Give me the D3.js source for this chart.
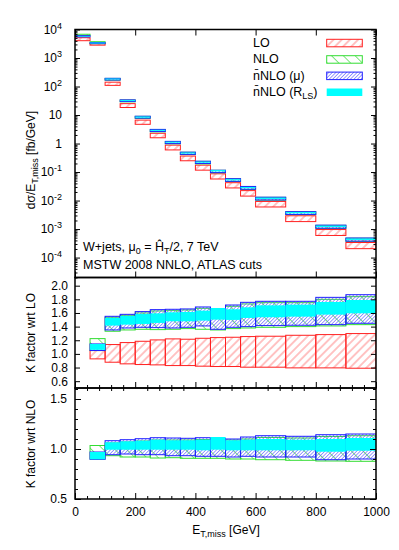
<!DOCTYPE html>
<html>
<head>
<meta charset="utf-8">
<script src="https://cdn.jsdelivr.net/npm/d3@7"></script>
<style>
body { margin: 0; background: #fff; }
svg { display: block; }
text { font-family: "Liberation Sans", Arial, sans-serif; font-size: 12px; fill: #000; }
text.big { font-size: 12.5px; }
</style>
</head>
<body>
<div id="container"></div>
<script>
// bin edges in E_T,miss [GeV]
var binEdges = [0, 50, 100, 150, 200, 250, 300, 350, 400, 450, 500, 550, 600, 700, 800, 900, 1000];

// LO central value, dsigma/dE [fb/GeV]
var loXsec = [4600, 3050, 125, 21.5, 5.6, 1.9, 0.72, 0.30, 0.142, 0.070, 0.034, 0.0178, 0.0074, 0.0023, 0.00075, 0.00026];

// K factor wrt LO : scale bands (low / high edge of each box)
var loLow    = [0.88, 0.927, 0.878, 0.854, 0.844, 0.839, 0.829, 0.829, 0.82, 0.815, 0.815, 0.805, 0.805, 0.795, 0.795, 0.79];
var loHigh   = [1.12, 1.049, 1.137, 1.166, 1.185, 1.205, 1.22, 1.215, 1.229, 1.239, 1.244, 1.254, 1.259, 1.273, 1.283, 1.298];
var nloLow   = [1.30, 1.049, 1.332, 1.351, 1.361, 1.356, 1.361, 1.371, 1.361, 1.351, 1.371, 1.38, 1.39, 1.40, 1.41, 1.429];
var nloHigh  = [1.48, 1.224, 1.537, 1.566, 1.60, 1.629, 1.634, 1.644, 1.668, 1.644, 1.698, 1.732, 1.751, 1.751, 1.80, 1.839];
var muLow    = [1.20, 1.05, 1.351, 1.38, 1.39, 1.385, 1.38, 1.39, 1.41, 1.361, 1.39, 1.40, 1.415, 1.42, 1.429, 1.449];
var muHigh   = [1.32, 1.146, 1.551, 1.58, 1.62, 1.649, 1.654, 1.659, 1.688, 1.654, 1.717, 1.756, 1.771, 1.771, 1.829, 1.868];
var rlsLow   = [1.22, 1.059, 1.415, 1.429, 1.439, 1.454, 1.478, 1.478, 1.488, 1.502, 1.498, 1.527, 1.537, 1.546, 1.576, 1.595];
var rlsHigh  = [1.29, 1.146, 1.527, 1.556, 1.585, 1.595, 1.610, 1.615, 1.634, 1.673, 1.654, 1.683, 1.712, 1.722, 1.761, 1.79];

// K factor wrt NLO (first bin not shown)
var nloNLow  = [null, 0.90, 0.933, 0.92, 0.92, 0.91, 0.913, 0.907, 0.907, 0.907, 0.90, 0.90, 0.893, 0.887, 0.88, 0.877];
var nloNHigh = [null, 1.035, 1.06, 1.07, 1.08, 1.09, 1.09, 1.09, 1.095, 1.09, 1.09, 1.10, 1.115, 1.11, 1.125, 1.133];
var muNLow   = [null, 0.897, 0.943, 0.95, 0.943, 0.943, 0.933, 0.933, 0.927, 0.927, 0.92, 0.927, 0.92, 0.92, 0.893, 0.90];
var muNHigh  = [null, 0.97, 1.083, 1.093, 1.103, 1.113, 1.11, 1.107, 1.113, 1.107, 1.10, 1.12, 1.133, 1.127, 1.143, 1.15];
var rlsNLow  = [null, 0.897, 0.993, 0.993, 0.993, 0.993, 0.993, 0.993, 0.987, 0.993, 0.987, 0.987, 0.987, 0.987, 0.973, 0.983];
var rlsNHigh = [null, 0.97, 1.067, 1.077, 1.083, 1.093, 1.087, 1.087, 1.093, 1.12, 1.087, 1.093, 1.10, 1.093, 1.10, 1.11];

var xTicks = [0, 200, 400, 600, 800, 1000];

var svgWidth = 399, svgHeight = 550;
var svg = d3.select("div#container").append("svg")
    .attr("width", svgWidth)
    .attr("height", svgHeight);

var x = d3.scaleLinear().domain([0, 1000]).range([75, 376]);
var yMain = d3.scaleLog().domain([2e-5, 1e4]).range([277.5, 29.5]);
var yMid = d3.scaleLinear().domain([0.5, 2.12]).range([388, 277.5]);
var yBot = d3.scaleLinear().domain([0.5, 1.61]).range([499, 388]);

var bins = loXsec.map(function (c, i) { return { i: i, x0: binEdges[i], x1: binEdges[i + 1] }; });

// hatch patterns
var defs = svg.append("defs");
function hatch(id, spacing, angle, color, width) {
    var p = defs.append("pattern")
        .attr("id", id)
        .attr("patternUnits", "userSpaceOnUse")
        .attr("width", spacing)
        .attr("height", 10)
        .attr("patternTransform", "rotate(" + angle + ")");
    p.append("line")
        .attr("x1", spacing / 2).attr("x2", spacing / 2)
        .attr("y1", 0).attr("y2", 10)
        .attr("stroke", color)
        .attr("stroke-width", width);
}
hatch("hLO", 5.8, 45, "#ff6666", 0.8);
hatch("hNLO", 8.3, -45, "#55e055", 0.8);
hatch("hMU", 2.5, 45, "#6666ff", 0.7);

var styles = {
    lo:  { fill: "url(#hLO)", stroke: "#ff2020" },
    nlo: { fill: "url(#hNLO)", stroke: "#33dd33" },
    mu:  { fill: "url(#hMU)", stroke: "#2020ff" },
    rls: { fill: "#00ffff", stroke: "none" }
};

function clip(id, y) {
    defs.append("clipPath").attr("id", id).append("rect")
        .attr("x", x.range()[0]).attr("width", x.range()[1] - x.range()[0])
        .attr("y", y.range()[1]).attr("height", y.range()[0] - y.range()[1]);
}
clip("cMain", yMain);
clip("cMid", yMid);
clip("cBot", yBot);

function drawBoxes(g, y, low, high, scale, style) {
    var data = bins.filter(function (d) { return low[d.i] != null; });
    g.selectAll(null)
        .data(data)
        .enter()
        .append("rect")
        .attr("x", function (d) { return x(d.x0); })
        .attr("width", function (d) { return x(d.x1) - x(d.x0); })
        .attr("y", function (d) { return y(high[d.i] * scale(d)); })
        .attr("height", function (d) { return y(low[d.i] * scale(d)) - y(high[d.i] * scale(d)); })
        .attr("fill", style.fill)
        .attr("stroke", style.stroke)
        .attr("stroke-width", 1);
}

var one = function () { return 1; };
var byLO = function (d) { return loXsec[d.i]; };

// main panel: LO central times K factor
var gMain = svg.append("g").attr("clip-path", "url(#cMain)");
drawBoxes(gMain, yMain, loLow, loHigh, byLO, styles.lo);
drawBoxes(gMain, yMain, nloLow, nloHigh, byLO, styles.nlo);
drawBoxes(gMain, yMain, muLow, muHigh, byLO, styles.mu);
drawBoxes(gMain, yMain, rlsLow, rlsHigh, byLO, styles.rls);

// K factor wrt LO (bins from 50 GeV)
var midLow = function (a) { return a.map(function (v, i) { return i === 0 ? null : v; }); };
var gMid = svg.append("g").attr("clip-path", "url(#cMid)");
drawBoxes(gMid, yMid, midLow(loLow), loHigh, one, styles.lo);
drawBoxes(gMid, yMid, midLow(nloLow), nloHigh, one, styles.nlo);
drawBoxes(gMid, yMid, midLow(muLow), muHigh, one, styles.mu);
drawBoxes(gMid, yMid, midLow(rlsLow), rlsHigh, one, styles.rls);

// K factor wrt NLO
var gBot = svg.append("g").attr("clip-path", "url(#cBot)");
drawBoxes(gBot, yBot, nloNLow, nloNHigh, one, styles.nlo);
drawBoxes(gBot, yBot, muNLow, muNHigh, one, styles.mu);
drawBoxes(gBot, yBot, rlsNLow, rlsNHigh, one, styles.rls);

// axes
function cleanAxis(g) {
    g.select(".domain").remove();
    g.selectAll(".tick line").attr("stroke", "#000").attr("stroke-width", 1);
    g.attr("font-size", null).attr("font-family", null);
}

function xAxes(y, top, bottom, minorTop, minorBottom, labels) {
    var minors = d3.range(0, 1001, 40).filter(function (v) { return v % 200 !== 0; });
    var yt = y.range()[1], yb = y.range()[0];
    if (top) svg.append("g").attr("transform", "translate(0," + yt + ")")
        .call(d3.axisTop(x).tickValues(xTicks).tickSize(-6).tickFormat("")).call(cleanAxis);
    if (minorTop) svg.append("g").attr("transform", "translate(0," + yt + ")")
        .call(d3.axisTop(x).tickValues(minors).tickSize(-3).tickFormat("")).call(cleanAxis);
    svg.append("g").attr("transform", "translate(0," + yb + ")")
        .call(d3.axisBottom(x).tickValues(xTicks).tickSize(-6).tickPadding(8.5)
            .tickFormat(labels ? d3.format("d") : ""))
        .call(cleanAxis);
    if (minorBottom) svg.append("g").attr("transform", "translate(0," + yb + ")")
        .call(d3.axisBottom(x).tickValues(minors).tickSize(-3).tickFormat("")).call(cleanAxis);
}

function yAxes(y, majors, minors, fmt, pad, majLen, minLen) {
    var xl = x.range()[0], xr = x.range()[1];
    var gl = svg.append("g").attr("transform", "translate(" + xl + ",0)")
        .call(d3.axisLeft(y).tickValues(majors).tickSize(-majLen).tickPadding(pad).tickFormat(fmt))
        .call(cleanAxis);
    svg.append("g").attr("transform", "translate(" + xr + ",0)")
        .call(d3.axisRight(y).tickValues(majors).tickSize(-majLen).tickFormat("")).call(cleanAxis);
    if (minors) {
        svg.append("g").attr("transform", "translate(" + xl + ",0)")
            .call(d3.axisLeft(y).tickValues(minors).tickSize(-minLen).tickFormat("")).call(cleanAxis);
        svg.append("g").attr("transform", "translate(" + xr + ",0)")
            .call(d3.axisRight(y).tickValues(minors).tickSize(-minLen).tickFormat("")).call(cleanAxis);
    }
    return gl;
}

// main panel y axis (log)
var mainMajors = [1e-4, 1e-3, 1e-2, 1e-1, 1, 10, 100, 1e3, 1e4];
var mainMinors = [];
for (var e = -5; e < 4; e++) {
    for (var k = 2; k < 10; k++) {
        var v = k * Math.pow(10, e);
        if (v >= 2e-5 && v <= 1e4) mainMinors.push(v);
    }
}
var glMain = yAxes(yMain, mainMajors, mainMinors, function () { return ""; }, 13, 5, 2.5);
glMain.selectAll(".tick text").each(function (d) {
    var ex = Math.round(Math.log10(d));
    var t = d3.select(this);
    if (ex === 0) t.text("1");
    else if (ex === 1) t.text("10");
    else {
        t.append("tspan").text("10");
        t.append("tspan").attr("font-size", 9).attr("dy", -5).text(ex);
    }
});
xAxes(yMain, true, true, false, false, false);

// K wrt LO axis
yAxes(yMid, [0.6, 0.8, 1.0, 1.2, 1.4, 1.6, 1.8, 2.0], null, d3.format(".1f"), 7, 5, 0);
xAxes(yMid, false, true, false, true, false);

// K wrt NLO axis
var botMinors = [0.6, 0.7, 0.8, 0.9, 1.1, 1.2, 1.3, 1.4, 1.6];
yAxes(yBot, [0.5, 1.0, 1.5], botMinors, d3.format(".1f"), 8, 6, 3);
xAxes(yBot, false, true, true, true, true);

// frames
[yMain, yMid, yBot].forEach(function (y) {
    svg.append("rect")
        .attr("x", x.range()[0]).attr("width", x.range()[1] - x.range()[0])
        .attr("y", y.range()[1]).attr("height", y.range()[0] - y.range()[1])
        .attr("fill", "none").attr("stroke", "#000").attr("stroke-width", 1.5);
});

// text with sub/superscript pieces: [text, "sub"|"sup"|null]
function richText(parent, pieces) {
    var shift = 0;
    pieces.forEach(function (p) {
        var target = p[1] === "sub" ? 3 : (p[1] === "sup" ? -5 : 0);
        var ts = parent.append("tspan").text(p[0]).attr("dy", target - shift);
        if (p[1]) ts.attr("font-size", 9);
        shift = target;
    });
}

// axis titles
richText(svg.append("text").attr("text-anchor", "middle").attr("transform", "translate(35,160) rotate(-90)"),
    [["d\u03c3/E", null], ["T,miss", "sub"], [" [fb/GeV]", null]]);
svg.append("text").attr("text-anchor", "middle").attr("transform", "translate(35,333) rotate(-90)")
    .text("K factor wrt LO");
svg.append("text").attr("text-anchor", "middle").attr("transform", "translate(35,444) rotate(-90)")
    .text("K factor wrt NLO");
richText(svg.append("text").attr("text-anchor", "middle").attr("x", 226).attr("y", 534),
    [["E", null], ["T,miss", "sub"], [" [GeV]", null]]);

// annotations
richText(svg.append("text").attr("class", "big").attr("x", 83).attr("y", 251),
    [["W+jets, \u03bc", null], ["0", "sub"], [" = \u0124", null], ["T", "sub"], ["/2, 7 TeV", null]]);
svg.append("text").attr("class", "big").attr("x", 83).attr("y", 269).text("MSTW 2008 NNLO, ATLAS cuts");

// legend
var legend = [
    { label: [["LO", null]], style: styles.lo },
    { label: [["NLO", null]], style: styles.nlo },
    { label: [["n\u0304NLO (\u03bc)", null]], style: styles.mu },
    { label: [["n\u0304NLO (R", null], ["LS", "sub"], [")", null]], style: styles.rls }
];
legend.forEach(function (d, i) {
    var base = 46.7 + i * 16.4;
    richText(svg.append("text").attr("class", "big").attr("x", 253).attr("y", base), d.label);
    svg.append("rect")
        .attr("x", 326.7).attr("y", base - 7.4)
        .attr("width", 35.6).attr("height", 7.5)
        .attr("fill", d.style.fill)
        .attr("stroke", d.style.stroke)
        .attr("stroke-width", 1);
});
</script>
</body>
</html>
